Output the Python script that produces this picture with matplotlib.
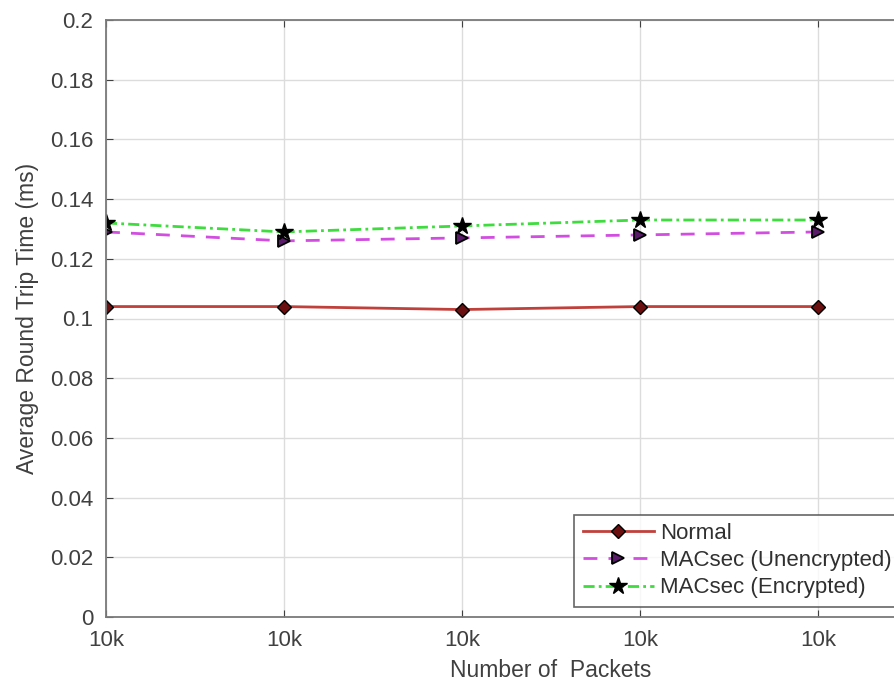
import matplotlib.pyplot as plt
import numpy as np

plt.rcParams['font.family'] = ['Liberation Sans', 'DejaVu Sans']

# measured average round trip time (ms) per run
runs = [1, 2, 3, 4, 5]
tick_labels = ['10k', '10k', '10k', '10k', '10k']
normal = [0.104, 0.104, 0.103, 0.104, 0.104]
macsec_unenc = [0.129, 0.126, 0.127, 0.128, 0.129]
macsec_enc = [0.132, 0.129, 0.131, 0.133, 0.133]
y_ticks = [0, 0.02, 0.04, 0.06, 0.08, 0.1, 0.12, 0.14, 0.16, 0.18, 0.2]


def main():
    fig = plt.figure(figsize=(8.95, 6.87), dpi=100)
    # axes run past the right edge of the picture, like the cropped original
    ax = fig.add_axes([106 / 895, 70 / 687, 890 / 895, 597 / 687])

    ax.plot(runs, normal, color='#c0413c', linewidth=2.0, marker='D',
            markersize=7, markerfacecolor='#6a1010', markeredgecolor='black',
            label='Normal')
    ax.plot(runs, macsec_unenc, color='#d24ee0', linewidth=2.0,
            linestyle=(0, (5, 4)), marker='>', markersize=9,
            markerfacecolor='#5a1a6a', markeredgecolor='black',
            markeredgewidth=1.3, label='MACsec (Unencrypted)')
    ax.plot(runs, macsec_enc, color='#3fdc3f', linewidth=2.0,
            linestyle=(0, (4, 1.5, 1, 1.5)), marker='*', markersize=13,
            markerfacecolor='black', markeredgecolor='black',
            label='MACsec (Encrypted)')

    ax.set_xlim(1, 6)
    ax.set_ylim(0, 0.2)
    ax.set_xticks(runs)
    ax.set_xticklabels(tick_labels)
    ax.set_yticks(y_ticks)
    ax.set_yticklabels([f'{v:g}' for v in y_ticks])
    ax.tick_params(direction='in', labelsize=16, colors='#404040',
                   length=5, top=True, right=True)
    ax.tick_params(axis='y', pad=9)
    ax.tick_params(axis='x', pad=9)

    ax.grid(True, color='#dcdcdc', linewidth=1.0)
    ax.set_axisbelow(True)
    for side in ['left', 'bottom', 'top', 'right']:
        ax.spines[side].set_color('#7a7a7a')
        ax.spines[side].set_linewidth(1.3)

    ax.set_xlabel('Number of  Packets', fontsize=16.5, color='#404040', labelpad=6)
    ax.set_ylabel('Average Round Trip Time (ms)', fontsize=16.5, color='#404040',
                  labelpad=8)

    leg = ax.legend(loc='lower left', bbox_to_anchor=(0.526, 0.017),
                    fontsize=16, frameon=True, fancybox=False,
                    edgecolor='#404040', handlelength=3.2,
                    borderpad=0.38, labelspacing=0.28, handletextpad=0.3,
                    borderaxespad=0)
    leg.get_frame().set_linewidth(1.2)
    for text in leg.get_texts():
        text.set_color('#303030')

    fig.savefig('out.png', dpi=100)


if __name__ == "__main__":
    main()
